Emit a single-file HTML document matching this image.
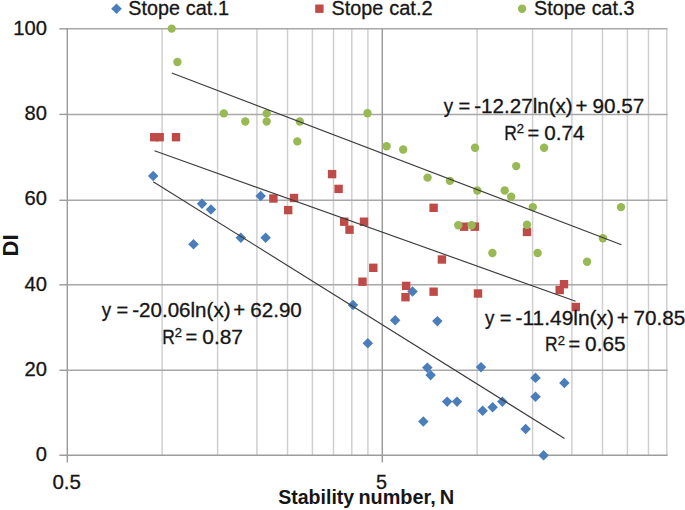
<!DOCTYPE html><html><head><meta charset="utf-8"><style>html,body{margin:0;padding:0;background:#fff}svg{display:block}text{font-family:"Liberation Sans",sans-serif;fill:#161616}</style></head><body>
<svg width="685" height="510" viewBox="0 0 685 510">
<rect width="685" height="510" fill="#fff"/>
<g>
<line x1="162.1" y1="28.8" x2="162.1" y2="455.3" stroke="#cecece" stroke-width="1.45"/>
<line x1="217.6" y1="28.8" x2="217.6" y2="455.3" stroke="#cecece" stroke-width="1.45"/>
<line x1="256.9" y1="28.8" x2="256.9" y2="455.3" stroke="#cecece" stroke-width="1.45"/>
<line x1="287.5" y1="28.8" x2="287.5" y2="455.3" stroke="#cecece" stroke-width="1.45"/>
<line x1="312.4" y1="28.8" x2="312.4" y2="455.3" stroke="#cecece" stroke-width="1.45"/>
<line x1="333.5" y1="28.8" x2="333.5" y2="455.3" stroke="#cecece" stroke-width="1.45"/>
<line x1="351.8" y1="28.8" x2="351.8" y2="455.3" stroke="#cecece" stroke-width="1.45"/>
<line x1="367.9" y1="28.8" x2="367.9" y2="455.3" stroke="#cecece" stroke-width="1.45"/>
<line x1="477.1" y1="28.8" x2="477.1" y2="455.3" stroke="#cecece" stroke-width="1.45"/>
<line x1="532.6" y1="28.8" x2="532.6" y2="455.3" stroke="#cecece" stroke-width="1.45"/>
<line x1="571.9" y1="28.8" x2="571.9" y2="455.3" stroke="#cecece" stroke-width="1.45"/>
<line x1="602.5" y1="28.8" x2="602.5" y2="455.3" stroke="#cecece" stroke-width="1.45"/>
<line x1="627.4" y1="28.8" x2="627.4" y2="455.3" stroke="#cecece" stroke-width="1.45"/>
<line x1="648.5" y1="28.8" x2="648.5" y2="455.3" stroke="#cecece" stroke-width="1.45"/>
<line x1="666.8" y1="28.8" x2="666.8" y2="455.3" stroke="#cecece" stroke-width="1.45"/>
<line x1="67.3" y1="370.3" x2="667.6" y2="370.3" stroke="#a8a8a8" stroke-width="1.45"/>
<line x1="67.3" y1="284.8" x2="667.6" y2="284.8" stroke="#a8a8a8" stroke-width="1.45"/>
<line x1="67.3" y1="200.3" x2="667.6" y2="200.3" stroke="#a8a8a8" stroke-width="1.45"/>
<line x1="67.3" y1="114.4" x2="667.6" y2="114.4" stroke="#a8a8a8" stroke-width="1.45"/>
<line x1="67.3" y1="28.8" x2="667.6" y2="28.8" stroke="#a8a8a8" stroke-width="1.45"/>
<line x1="382.3" y1="28.8" x2="382.3" y2="462.6" stroke="#9a9a9a" stroke-width="1.45"/>
<line x1="67.3" y1="28.0" x2="67.3" y2="462.6" stroke="#9c9c9c" stroke-width="1.45"/>
<line x1="59.4" y1="455.3" x2="667.6" y2="455.3" stroke="#9c9c9c" stroke-width="1.45"/>
<line x1="59.4" y1="370.3" x2="67.3" y2="370.3" stroke="#9c9c9c" stroke-width="1.45"/>
<line x1="59.4" y1="284.8" x2="67.3" y2="284.8" stroke="#9c9c9c" stroke-width="1.45"/>
<line x1="59.4" y1="200.3" x2="67.3" y2="200.3" stroke="#9c9c9c" stroke-width="1.45"/>
<line x1="59.4" y1="114.4" x2="67.3" y2="114.4" stroke="#9c9c9c" stroke-width="1.45"/>
<line x1="59.4" y1="28.8" x2="67.3" y2="28.8" stroke="#9c9c9c" stroke-width="1.45"/>
<path d="M153.2 170.8L158.4 176.0L153.2 181.2L147.9 176.0Z" fill="#4a7ebb"/>
<path d="M202.0 198.4L207.2 203.7L202.0 208.9L196.8 203.7Z" fill="#4a7ebb"/>
<path d="M210.9 204.2L216.2 209.5L210.9 214.8L205.7 209.5Z" fill="#4a7ebb"/>
<path d="M193.5 238.9L198.8 244.2L193.5 249.4L188.2 244.2Z" fill="#4a7ebb"/>
<path d="M240.8 232.4L246.1 237.7L240.8 242.9L235.6 237.7Z" fill="#4a7ebb"/>
<path d="M265.6 232.4L270.9 237.7L265.6 242.9L260.4 237.7Z" fill="#4a7ebb"/>
<path d="M260.7 190.7L265.9 195.9L260.7 201.2L255.4 195.9Z" fill="#4a7ebb"/>
<path d="M412.5 286.2L417.8 291.5L412.5 296.8L407.2 291.5Z" fill="#4a7ebb"/>
<path d="M353.0 299.8L358.2 305.0L353.0 310.2L347.8 305.0Z" fill="#4a7ebb"/>
<path d="M395.2 314.9L400.4 320.2L395.2 325.4L389.9 320.2Z" fill="#4a7ebb"/>
<path d="M437.4 315.9L442.6 321.1L437.4 326.4L432.1 321.1Z" fill="#4a7ebb"/>
<path d="M367.8 337.9L373.1 343.2L367.8 348.4L362.6 343.2Z" fill="#4a7ebb"/>
<path d="M427.3 362.4L432.6 367.6L427.3 372.9L422.1 367.6Z" fill="#4a7ebb"/>
<path d="M430.6 369.9L435.9 375.1L430.6 380.4L425.4 375.1Z" fill="#4a7ebb"/>
<path d="M447.2 396.4L452.4 401.6L447.2 406.9L441.9 401.6Z" fill="#4a7ebb"/>
<path d="M457.0 396.4L462.2 401.6L457.0 406.9L451.8 401.6Z" fill="#4a7ebb"/>
<path d="M423.3 416.2L428.6 421.5L423.3 426.8L418.1 421.5Z" fill="#4a7ebb"/>
<path d="M481.0 361.9L486.2 367.1L481.0 372.4L475.8 367.1Z" fill="#4a7ebb"/>
<path d="M482.6 405.4L487.9 410.7L482.6 415.9L477.4 410.7Z" fill="#4a7ebb"/>
<path d="M492.6 402.1L497.9 407.3L492.6 412.6L487.4 407.3Z" fill="#4a7ebb"/>
<path d="M502.4 396.4L507.6 401.6L502.4 406.9L497.1 401.6Z" fill="#4a7ebb"/>
<path d="M535.5 372.6L540.8 377.9L535.5 383.1L530.2 377.9Z" fill="#4a7ebb"/>
<path d="M564.4 377.8L569.6 383.0L564.4 388.2L559.1 383.0Z" fill="#4a7ebb"/>
<path d="M535.5 391.4L540.8 396.7L535.5 401.9L530.2 396.7Z" fill="#4a7ebb"/>
<path d="M525.6 423.8L530.9 429.0L525.6 434.2L520.4 429.0Z" fill="#4a7ebb"/>
<path d="M543.6 450.1L548.9 455.4L543.6 460.6L538.4 455.4Z" fill="#4a7ebb"/>
<path d="M116.5 3.4L121.8 8.7L116.5 13.9L111.2 8.7Z" fill="#4a7ebb"/>
<rect x="150.0" y="133.0" width="8.4" height="8.4" fill="#be4b48"/>
<rect x="155.5" y="133.0" width="8.4" height="8.4" fill="#be4b48"/>
<rect x="171.8" y="133.0" width="8.4" height="8.4" fill="#be4b48"/>
<rect x="269.2" y="194.3" width="8.4" height="8.4" fill="#be4b48"/>
<rect x="289.8" y="193.8" width="8.4" height="8.4" fill="#be4b48"/>
<rect x="284.0" y="205.9" width="8.4" height="8.4" fill="#be4b48"/>
<rect x="327.9" y="169.9" width="8.4" height="8.4" fill="#be4b48"/>
<rect x="334.4" y="184.7" width="8.4" height="8.4" fill="#be4b48"/>
<rect x="340.0" y="217.5" width="8.4" height="8.4" fill="#be4b48"/>
<rect x="359.8" y="217.5" width="8.4" height="8.4" fill="#be4b48"/>
<rect x="345.3" y="225.5" width="8.4" height="8.4" fill="#be4b48"/>
<rect x="429.4" y="203.6" width="8.4" height="8.4" fill="#be4b48"/>
<rect x="459.9" y="222.5" width="8.4" height="8.4" fill="#be4b48"/>
<rect x="470.6" y="222.5" width="8.4" height="8.4" fill="#be4b48"/>
<rect x="437.7" y="255.3" width="8.4" height="8.4" fill="#be4b48"/>
<rect x="369.1" y="263.6" width="8.4" height="8.4" fill="#be4b48"/>
<rect x="358.3" y="277.5" width="8.4" height="8.4" fill="#be4b48"/>
<rect x="402.0" y="281.7" width="8.4" height="8.4" fill="#be4b48"/>
<rect x="401.3" y="293.0" width="8.4" height="8.4" fill="#be4b48"/>
<rect x="429.4" y="287.5" width="8.4" height="8.4" fill="#be4b48"/>
<rect x="473.8" y="289.3" width="8.4" height="8.4" fill="#be4b48"/>
<rect x="522.8" y="227.7" width="8.4" height="8.4" fill="#be4b48"/>
<rect x="559.8" y="280.0" width="8.4" height="8.4" fill="#be4b48"/>
<rect x="555.5" y="285.8" width="8.4" height="8.4" fill="#be4b48"/>
<rect x="571.6" y="302.8" width="8.4" height="8.4" fill="#be4b48"/>
<rect x="315.2" y="4.5" width="8.4" height="8.4" fill="#be4b48"/>
<circle cx="171.7" cy="28.6" r="4.2" fill="#98b954"/>
<circle cx="177.4" cy="62.0" r="4.2" fill="#98b954"/>
<circle cx="223.8" cy="113.4" r="4.2" fill="#98b954"/>
<circle cx="245.3" cy="121.5" r="4.2" fill="#98b954"/>
<circle cx="266.7" cy="113.4" r="4.2" fill="#98b954"/>
<circle cx="266.7" cy="121.5" r="4.2" fill="#98b954"/>
<circle cx="299.8" cy="121.5" r="4.2" fill="#98b954"/>
<circle cx="297.3" cy="141.4" r="4.2" fill="#98b954"/>
<circle cx="367.5" cy="113.3" r="4.2" fill="#98b954"/>
<circle cx="386.6" cy="146.2" r="4.2" fill="#98b954"/>
<circle cx="403.2" cy="149.5" r="4.2" fill="#98b954"/>
<circle cx="475.0" cy="147.7" r="4.2" fill="#98b954"/>
<circle cx="427.6" cy="177.6" r="4.2" fill="#98b954"/>
<circle cx="449.9" cy="180.9" r="4.2" fill="#98b954"/>
<circle cx="477.3" cy="190.5" r="4.2" fill="#98b954"/>
<circle cx="458.3" cy="225.3" r="4.2" fill="#98b954"/>
<circle cx="471.6" cy="225.3" r="4.2" fill="#98b954"/>
<circle cx="544.1" cy="147.7" r="4.2" fill="#98b954"/>
<circle cx="516.2" cy="166.1" r="4.2" fill="#98b954"/>
<circle cx="504.7" cy="190.5" r="4.2" fill="#98b954"/>
<circle cx="511.2" cy="196.7" r="4.2" fill="#98b954"/>
<circle cx="532.8" cy="207.1" r="4.2" fill="#98b954"/>
<circle cx="621.0" cy="207.1" r="4.2" fill="#98b954"/>
<circle cx="527.0" cy="224.8" r="4.2" fill="#98b954"/>
<circle cx="602.9" cy="238.2" r="4.2" fill="#98b954"/>
<circle cx="492.4" cy="253.0" r="4.2" fill="#98b954"/>
<circle cx="537.6" cy="253.0" r="4.2" fill="#98b954"/>
<circle cx="587.1" cy="261.8" r="4.2" fill="#98b954"/>
<circle cx="522.1" cy="8.7" r="4.2" fill="#98b954"/>
<line x1="153.2" y1="181.7" x2="564.5" y2="438.5" stroke="#3c3c3c" stroke-width="1.15"/>
<line x1="154.5" y1="150.8" x2="575.6" y2="301.2" stroke="#3c3c3c" stroke-width="1.15"/>
<line x1="171.8" y1="73.0" x2="621.5" y2="244.8" stroke="#3c3c3c" stroke-width="1.15"/>
<text transform="translate(128.31,14.50) scale(1.0114,1)" font-size="19.5" stroke="#161616" stroke-width="0.3">Stope</text>
<text transform="translate(185.86,14.50) scale(1.0195,1)" font-size="19.5" stroke="#161616" stroke-width="0.3">cat.1</text>
<text transform="translate(331.61,14.50) scale(1.0114,1)" font-size="19.5" stroke="#161616" stroke-width="0.3">Stope</text>
<text transform="translate(389.15,14.50) scale(1.0306,1)" font-size="19.5" stroke="#161616" stroke-width="0.3">cat.2</text>
<text transform="translate(534.11,14.50) scale(1.0114,1)" font-size="19.5" stroke="#161616" stroke-width="0.3">Stope</text>
<text transform="translate(591.66,14.50) scale(1.0121,1)" font-size="19.5" stroke="#161616" stroke-width="0.3">cat.3</text>
<text transform="translate(35.66,461.00) scale(1.0350,1)" font-size="19.5" stroke="#161616" stroke-width="0.3">0</text>
<text transform="translate(24.45,375.60) scale(1.0350,1)" font-size="19.5" stroke="#161616" stroke-width="0.3">20</text>
<text transform="translate(24.45,291.00) scale(1.0350,1)" font-size="19.5" stroke="#161616" stroke-width="0.3">40</text>
<text transform="translate(24.45,205.30) scale(1.0350,1)" font-size="19.5" stroke="#161616" stroke-width="0.3">60</text>
<text transform="translate(24.45,120.30) scale(1.0350,1)" font-size="19.5" stroke="#161616" stroke-width="0.3">80</text>
<text transform="translate(13.20,35.00) scale(1.0350,1)" font-size="19.5" stroke="#161616" stroke-width="0.3">100</text>
<text transform="translate(52.38,489.10) scale(1.0530,1)" font-size="19.5" stroke="#161616" stroke-width="0.3">0.5</text>
<text transform="translate(375.91,489.00) scale(1.0148,1)" font-size="19.5" stroke="#161616" stroke-width="0.3">5</text>
<text transform="translate(278.21,504.20) scale(1.0023,1)" font-size="19.5" font-weight="bold">Stability</text>
<text transform="translate(358.41,504.20) scale(1.0195,1)" font-size="19.5" font-weight="bold">number,</text>
<text transform="translate(439.74,504.20) scale(1.0300,1)" font-size="19.5" font-weight="bold">N</text>
<text transform="translate(18.1,256.49) rotate(-90) scale(0.9814,1)" font-size="22.5" font-weight="bold">DI</text>
<text transform="translate(101.65,317.00) scale(0.9635,1)" font-size="19.5" stroke="#161616" stroke-width="0.3">y</text>
<text transform="translate(116.40,317.00) scale(1.0256,1)" font-size="19.5" stroke="#161616" stroke-width="0.3">=</text>
<text transform="translate(132.17,317.00) scale(1.0558,1)" font-size="19.5" stroke="#161616" stroke-width="0.3">-20.06ln(x)</text>
<text transform="translate(233.28,317.00) scale(1.0468,1)" font-size="19.5" stroke="#161616" stroke-width="0.3">+</text>
<text transform="translate(250.27,317.00) scale(1.0575,1)" font-size="19.5" stroke="#161616" stroke-width="0.3">62.90</text>
<text transform="translate(162.27,343.70) scale(0.8915,1)" font-size="19.5" stroke="#161616" stroke-width="0.3">R</text>
<text transform="translate(174.85,337.10) scale(1.0806,1)" font-size="12.0" stroke="#161616" stroke-width="0.3">2</text>
<text transform="translate(185.60,343.70) scale(1.0256,1)" font-size="19.5" stroke="#161616" stroke-width="0.3">=</text>
<text transform="translate(202.26,343.70) scale(1.0726,1)" font-size="19.5" stroke="#161616" stroke-width="0.3">0.87</text>
<text transform="translate(443.75,113.00) scale(0.9635,1)" font-size="19.5" stroke="#161616" stroke-width="0.3">y</text>
<text transform="translate(458.50,113.00) scale(1.0256,1)" font-size="19.5" stroke="#161616" stroke-width="0.3">=</text>
<text transform="translate(474.27,113.00) scale(1.0558,1)" font-size="19.5" stroke="#161616" stroke-width="0.3">-12.27ln(x)</text>
<text transform="translate(575.38,113.00) scale(1.0468,1)" font-size="19.5" stroke="#161616" stroke-width="0.3">+</text>
<text transform="translate(592.42,113.00) scale(1.0619,1)" font-size="19.5" stroke="#161616" stroke-width="0.3">90.57</text>
<text transform="translate(504.17,139.90) scale(0.8915,1)" font-size="19.5" stroke="#161616" stroke-width="0.3">R</text>
<text transform="translate(516.75,133.30) scale(1.0806,1)" font-size="12.0" stroke="#161616" stroke-width="0.3">2</text>
<text transform="translate(527.50,139.90) scale(1.0256,1)" font-size="19.5" stroke="#161616" stroke-width="0.3">=</text>
<text transform="translate(544.17,139.90) scale(1.0598,1)" font-size="19.5" stroke="#161616" stroke-width="0.3">0.74</text>
<text transform="translate(485.05,324.80) scale(0.9635,1)" font-size="19.5" stroke="#161616" stroke-width="0.3">y</text>
<text transform="translate(499.80,324.80) scale(1.0256,1)" font-size="19.5" stroke="#161616" stroke-width="0.3">=</text>
<text transform="translate(515.56,324.80) scale(1.0730,1)" font-size="19.5" stroke="#161616" stroke-width="0.3">-11.49ln(x)</text>
<text transform="translate(616.68,324.80) scale(1.0468,1)" font-size="19.5" stroke="#161616" stroke-width="0.3">+</text>
<text transform="translate(633.62,324.80) scale(1.0597,1)" font-size="19.5" stroke="#161616" stroke-width="0.3">70.85</text>
<text transform="translate(545.07,351.40) scale(0.8915,1)" font-size="19.5" stroke="#161616" stroke-width="0.3">R</text>
<text transform="translate(557.65,344.80) scale(1.0806,1)" font-size="12.0" stroke="#161616" stroke-width="0.3">2</text>
<text transform="translate(568.40,351.40) scale(1.0256,1)" font-size="19.5" stroke="#161616" stroke-width="0.3">=</text>
<text transform="translate(585.07,351.40) scale(1.0669,1)" font-size="19.5" stroke="#161616" stroke-width="0.3">0.65</text>
</g></svg></body></html>
